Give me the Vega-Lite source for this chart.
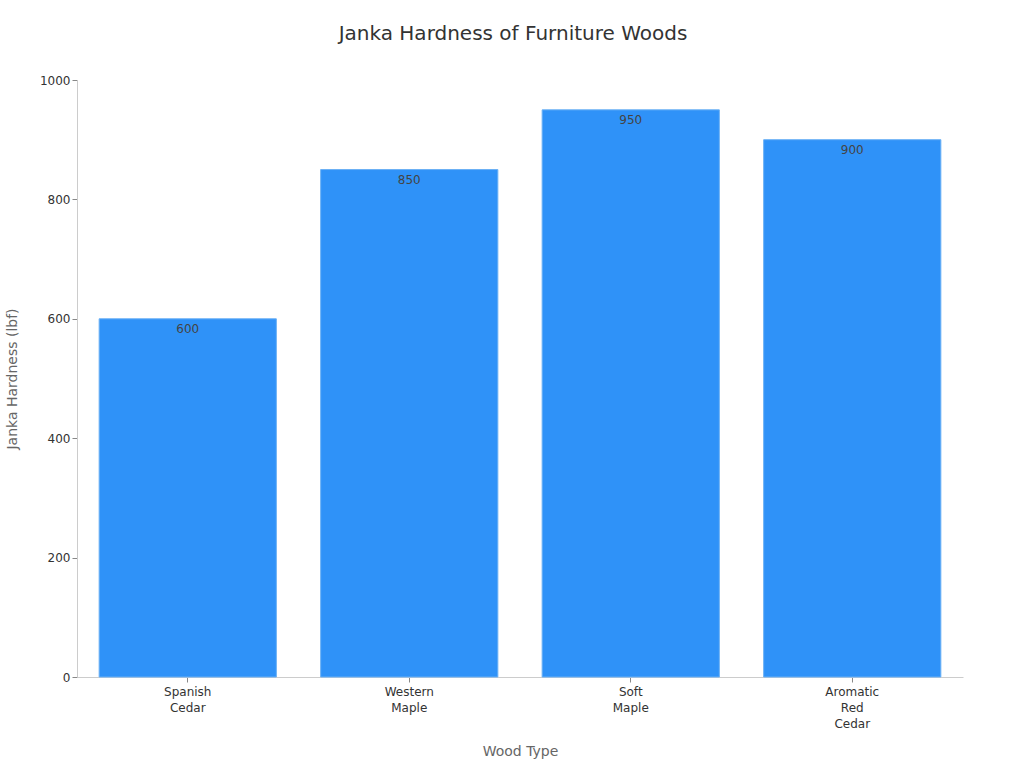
{
  "$schema": "https://vega.github.io/schema/vega-lite/v6.json",
  "autosize": {"type": "none"},
  "width": 886,
  "height": 597,
  "padding": {"left": 77, "top": 80, "right": 61, "bottom": 91},
  "background": "white",
  "title": {
    "text": "Janka Hardness of Furniture Woods",
    "fontSize": 20,
    "fontWeight": "normal",
    "font": "DejaVu Sans",
    "color": "#333333",
    "offset": 30,
    "dx": -7
  },
  "config": {
    "font": "DejaVu Sans",
    "view": {"stroke": null},
    "axis": {
      "labelFont": "DejaVu Sans",
      "titleFont": "DejaVu Sans",
      "labelFontSize": 12,
      "labelColor": "#333333",
      "titleFontSize": 14,
      "titleFontWeight": "normal",
      "titleColor": "#666666",
      "domainColor": "#cccccc",
      "tickColor": "#888888",
      "grid": false
    }
  },
  "data": {
    "values": [
      {"wood": "Spanish Cedar", "hardness": 600},
      {"wood": "Western Maple", "hardness": 850},
      {"wood": "Soft Maple", "hardness": 950},
      {"wood": "Aromatic Red Cedar", "hardness": 900}
    ]
  },
  "encoding": {
    "x": {
      "field": "wood",
      "type": "nominal",
      "sort": null,
      "scale": {"paddingInner": 0.2, "paddingOuter": 0.1},
      "axis": {
        "title": "Wood Type",
        "labelAngle": 0,
        "labelExpr": "split(datum.label, ' ')",
        "labelLineHeight": 16,
        "labelPadding": 4,
        "titleY": 67
      }
    },
    "y": {
      "field": "hardness",
      "type": "quantitative",
      "scale": {"domain": [0, 1000]},
      "axis": {
        "title": "Janka Hardness (lbf)",
        "format": "d",
        "values": [0, 200, 400, 600, 800, 1000],
        "titlePadding": 20
      }
    }
  },
  "layer": [
    {
      "mark": {"type": "bar", "color": "#2F92F8", "stroke": "#6AB0F5", "strokeWidth": 1}
    },
    {
      "mark": {"type": "text", "baseline": "middle", "dy": 10, "fontSize": 12, "color": "#444444"},
      "encoding": {"text": {"field": "hardness", "type": "quantitative"}}
    }
  ]
}
